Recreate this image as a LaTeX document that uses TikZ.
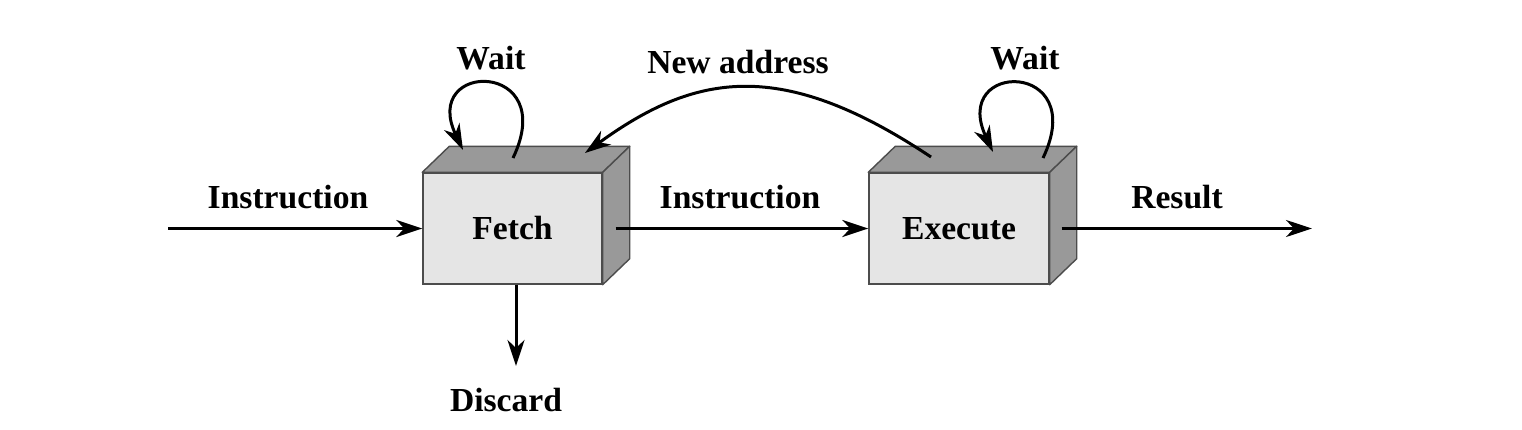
\documentclass[tikz,border=0pt]{standalone}
\usepackage{fontspec}
\setmainfont{Liberation Serif}
\usetikzlibrary{arrows.meta}
\begin{document}
\begin{tikzpicture}[x=0.5pt,y=-0.5pt,
  lbl/.style={font=\fontsize{16.8}{20}\selectfont\bfseries, inner sep=0pt},
  front/.style={draw=black!70, line width=0.7pt, fill=black!10, minimum height=55.5pt, inner sep=0pt},
  dark/.style={draw=black!70, line width=0.7pt, fill=black!40, line join=round},
  arr/.style={line width=1.5pt, -{Stealth[length=13pt, width=8.5pt, inset=4pt]}},
]
\useasboundingbox[fill=white] (0,0) rectangle (1522,429);
% boxes
\node[front, minimum width=89.5pt] (fetch) at (512.5,228.5) {};
\node[front, minimum width=90pt] (exec) at (959,228.5) {};
\foreach \b in {fetch,exec}{
  \draw[dark] (\b.north west) -- ++(27,-26) -- ([shift={(27,-26)}]\b.north east) -- (\b.north east) -- cycle;
  \draw[dark] (\b.north east) -- ([shift={(27,-26)}]\b.north east) -- ([shift={(27,-26)}]\b.south east) -- (\b.south east) -- cycle;
}
\node[lbl] (fetchtxt) at (fetch.center) {Fetch};
\node[lbl] (exectxt) at (exec.center) {Execute};
% coordinates
\coordinate (in) at (168,228.5);
\coordinate (out) at (1312,228.5);
\coordinate (discend) at (516,366);
\coordinate (fws) at (513,158);
\coordinate (fwe) at (463,150);
\coordinate (ews) at (1043,158);
\coordinate (ewe) at (993,152);
\coordinate (nas) at (931,157);
\coordinate (nae) at (585,153);
% labels
\node[lbl] (l1) at (288,197) {Instruction};
\node[lbl] (l2) at (740,197) {Instruction};
\node[lbl] (l3) at (1177,197) {Result};
\node[lbl] (w1) at (491,58) {Wait};
\node[lbl] (w2) at (1025,58) {Wait};
\node[lbl] (na) at (738,62) {New address};
\node[lbl] (disc) at (506,400) {Discard};
% arrows
\draw[arr] (in) -- (fetch.west);
\draw[arr] ([xshift=6.5pt]fetch.east) -- (exec.west);
\draw[arr] ([xshift=6pt]exec.east) -- (out);
\draw[arr] ([xshift=1.75pt]fetch.south) -- (discend);
\draw[arr] (fws) .. controls (560,60) and (420,60) .. (fwe);
\draw[arr] (ews) .. controls (1090,60) and (950,60) .. (ewe);
\draw[arr] (nas) .. controls (781,57) and (695,73) .. (nae);
\end{tikzpicture}
\end{document}
